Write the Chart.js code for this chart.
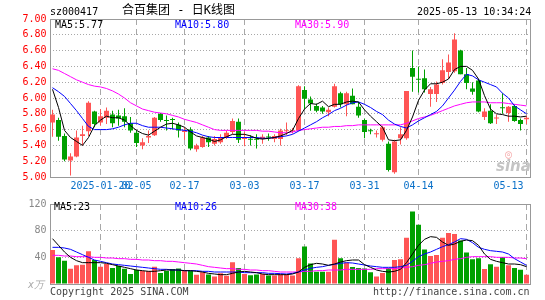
<!DOCTYPE html>
<html>
<head>
<meta charset="utf-8">
<script src="https://cdn.jsdelivr.net/npm/chart.js@4.4.1/dist/chart.umd.min.js"></script>
<style>
  body { margin: 0; background: #fff; width: 545px; height: 300px; overflow: hidden; position: relative;
         font-family: "DejaVu Sans Mono", monospace; font-size: 10px; }
  canvas { position: absolute; left: 0; }
  .t { position: absolute; white-space: pre; line-height: 10px; }
</style>
</head>
<body>
<canvas id="kline" width="545" height="195" style="top:0"></canvas>
<canvas id="volume" width="545" height="105" style="top:195px"></canvas>

<div class="t" style="left:50px;top:7px">sz000417</div>
<div class="t" style="left:122px;top:4px;font-size:12px;line-height:12px;font-family:'DejaVu Sans Mono','Noto Sans CJK SC'">合百集团 - 日K线图</div>
<div class="t" style="left:417px;top:7px">2025-05-13 10:34:24</div>
<div class="t" style="left:55px;top:20px;color:#000">MA5:5.77</div>
<div class="t" style="left:175px;top:20px;color:#00f">MA10:5.80</div>
<div class="t" style="left:295px;top:20px;color:#f0f">MA30:5.90</div>
<div class="t" style="left:505px;top:149px;font-size:12px;color:#f6b0b0">◎</div>
<div class="t" style="left:496px;top:160px;font:italic bold 15px 'DejaVu Sans';line-height:13px;color:#c4c4c4">sina</div>

<div class="t" style="left:54px;top:202px;color:#000">MA5:23</div>
<div class="t" style="left:175px;top:202px;color:#00f">MA10:26</div>
<div class="t" style="left:295px;top:202px;color:#f0f">MA30:38</div>
<div class="t" style="left:28px;top:280px;color:#aaa;font-style:italic">x万</div>
<div class="t" style="left:50px;top:287px;color:#444">Copyright 2025 SINA.COM</div>
<div class="t" style="left:373px;top:287px;color:#444">http://finance.sina.com.cn</div>

<script>
// trading days shown (MM-DD)
const dates = [
  "01-08","01-09","01-10","01-13","01-14","01-15","01-16","01-17","01-20","01-21",
  "01-22","01-23","01-24","01-27","02-05","02-06","02-07","02-10","02-11","02-12",
  "02-13","02-14","02-17","02-18","02-19","02-20","02-21","02-24","02-25","02-26",
  "02-27","02-28","03-03","03-04","03-05","03-06","03-07","03-10","03-11","03-12",
  "03-13","03-14","03-17","03-18","03-19","03-20","03-21","03-24","03-25","03-26",
  "03-27","03-28","03-31","04-01","04-02","04-03","04-07","04-08","04-09","04-10",
  "04-11","04-14","04-15","04-16","04-17","04-18","04-21","04-22","04-23","04-24",
  "04-25","04-28","04-29","04-30","05-06","05-07","05-08","05-09","05-12","05-13"
];
const xTickLabels = ["2025-01-20", "02-05", "02-17", "03-03", "03-17", "03-31", "04-14", "05-13"];

const open = [
  5.69,5.72,5.52,5.21,5.26,5.52,5.58,5.83,5.69,5.75,
  5.79,5.78,5.77,5.68,5.56,5.40,5.50,5.53,5.80,5.72,
  5.73,5.66,5.57,5.60,5.35,5.38,5.50,5.42,5.44,5.50,
  5.57,5.70,5.48,5.48,5.48,5.48,5.51,5.48,5.48,5.58,
  5.58,5.59,6.10,5.98,5.90,5.88,5.82,5.89,6.06,5.92,
  6.03,5.89,5.72,5.59,5.54,5.47,5.42,5.06,5.49,5.49,
  6.38,6.24,6.25,6.05,6.05,6.19,6.33,6.34,6.60,6.30,
  6.12,6.22,5.76,5.84,5.74,5.88,5.81,5.90,5.72,5.73
];
const high = [
  5.85,5.75,5.55,5.30,5.59,5.65,5.96,5.84,5.86,5.88,
  5.84,5.85,5.87,5.76,5.59,5.49,5.59,5.76,5.81,5.78,
  5.75,5.69,5.63,5.63,5.42,5.52,5.52,5.52,5.54,5.59,
  5.74,5.74,5.57,5.53,5.54,5.54,5.55,5.54,5.61,5.69,
  5.62,6.16,6.15,6.02,5.93,5.90,5.88,6.18,6.08,6.08,
  6.12,5.95,5.74,5.61,5.59,5.65,5.45,5.47,5.63,6.09,
  6.60,6.40,6.36,6.14,6.21,6.49,6.55,6.82,6.61,6.38,
  6.20,6.24,5.87,5.92,5.79,6.06,5.90,5.92,5.74,5.78
];
const low = [
  5.51,5.46,5.20,5.02,5.25,5.40,5.52,5.63,5.65,5.67,
  5.63,5.65,5.63,5.56,5.38,5.35,5.43,5.52,5.70,5.59,
  5.60,5.50,5.47,5.34,5.32,5.37,5.38,5.40,5.42,5.48,
  5.54,5.43,5.39,5.40,5.36,5.42,5.46,5.44,5.40,5.53,
  5.55,5.58,5.86,5.84,5.82,5.80,5.77,5.88,5.88,5.77,
  5.92,5.75,5.49,5.54,5.50,5.45,5.07,5.04,5.41,5.47,
  6.08,6.07,6.07,5.89,5.95,6.17,6.24,6.32,6.30,6.11,
  6.04,5.82,5.72,5.67,5.67,5.80,5.70,5.70,5.59,5.67
];
const close = [
  5.79,5.51,5.22,5.26,5.50,5.54,5.94,5.67,5.77,5.84,
  5.68,5.74,5.70,5.59,5.43,5.44,5.52,5.75,5.72,5.71,
  5.72,5.59,5.59,5.36,5.40,5.50,5.44,5.48,5.50,5.56,
  5.71,5.47,5.49,5.47,5.47,5.51,5.50,5.52,5.59,5.59,
  5.59,6.15,5.99,5.93,5.84,5.83,5.85,6.15,5.92,6.06,
  5.92,5.78,5.57,5.58,5.55,5.63,5.09,5.45,5.54,6.09,
  6.27,6.23,6.11,6.11,6.17,6.35,6.45,6.74,6.30,6.19,
  6.08,5.83,5.83,5.68,5.75,5.87,5.89,5.71,5.67,5.75
];
// volume, in 10k lots
const volume = [
  51,40,35,23,28,29,49,36,26,30,
  24,27,23,15,21,19.5,19.5,26,16.6,19.5,
  22.4,23.4,21,20,13.7,17.6,14.1,11.2,16,12.2,
  32.7,23.9,15.1,13.2,14.1,15.1,12.7,12.7,14.1,14.1,
  12.7,38.5,56.1,30.7,18.5,18.5,18.5,66.3,38.5,32.2,
  25.4,23.9,23.4,17.6,11.2,16.6,23.9,36.1,37.1,69.3,
  108.8,88.8,51.7,42,43.4,69.3,76.6,75.1,65.4,47.3,
  37.1,38.5,22.4,29.8,25.9,40.5,28.3,23.9,21.5,13.7
];

const ma5 = [
  6.11,5.88,5.59,5.50,5.45,5.40,5.50,5.65,5.72,5.77,
  5.75,5.75,5.72,5.65,5.59,5.55,5.53,5.58,5.63,5.67,
  5.68,5.66,5.63,5.57,5.52,5.50,5.48,5.45,5.47,5.51,
  5.54,5.54,5.54,5.52,5.49,5.48,5.49,5.50,5.52,5.55,
  5.59,5.74,5.86,5.93,5.92,5.96,5.89,5.92,5.92,5.95,
  5.96,5.95,5.85,5.77,5.70,5.63,5.47,5.46,5.47,5.59,
  5.76,5.97,6.10,6.18,6.18,6.20,6.24,6.36,6.40,6.40,
  6.35,6.24,6.03,5.86,5.80,5.79,5.77,5.77,5.76,5.77
];
const ma10 = [
  6.13,6.08,6.02,5.93,5.84,5.74,5.64,5.60,5.60,5.60,
  5.61,5.63,5.66,5.68,5.68,5.65,5.63,5.63,5.63,5.62,
  5.61,5.60,5.59,5.58,5.56,5.53,5.51,5.50,5.50,5.50,
  5.50,5.50,5.50,5.50,5.50,5.49,5.49,5.50,5.51,5.52,
  5.54,5.58,5.62,5.66,5.70,5.75,5.79,5.84,5.87,5.91,
  5.94,5.95,5.92,5.88,5.83,5.79,5.72,5.67,5.64,5.62,
  5.66,5.71,5.75,5.79,5.83,5.90,6.00,6.10,6.21,6.30,
  6.28,6.23,6.20,6.17,6.14,6.06,6.00,5.90,5.85,5.80
];
const ma30 = [
  6.37,6.35,6.31,6.27,6.23,6.20,6.17,6.15,6.14,6.12,
  6.09,6.05,6.00,5.94,5.90,5.86,5.84,5.82,5.81,5.80,
  5.78,5.76,5.73,5.71,5.69,5.66,5.63,5.60,5.59,5.59,
  5.59,5.59,5.59,5.59,5.59,5.58,5.58,5.57,5.56,5.56,
  5.57,5.59,5.60,5.61,5.62,5.63,5.63,5.64,5.64,5.65,
  5.65,5.66,5.66,5.66,5.66,5.66,5.66,5.66,5.66,5.68,
  5.71,5.74,5.76,5.78,5.81,5.84,5.87,5.90,5.92,5.94,
  5.95,5.95,5.95,5.94,5.94,5.94,5.93,5.92,5.91,5.90
];
const volMa5 = [
  68,58,48,40,35,32,32,32,32,31,
  29,27,25,23,21,20,19,19,20,21,
  21,21,20,20,19,18,16,15,14,14,
  16,18,19,18,17,15,14,14,14,14,
  15,18,25,29,31,30,28,30,33,35,
  36,36,29,25,21,19,18,19,22,32,
  45,58,67,71,70,63,58,60,64,66,
  65,58,45,37,34,32,30,30,29,26
];
const volMa10 = [
  55,55,54,52,48,44,40,36,34,32,
  30,29,28,27,26,25,24,23,22,22,
  21,21,20,20,20,19,19,18,18,18,
  18,18,17,17,17,17,16,16,15.5,15,
  16,18,21,23.5,25,26,28,29.5,31,32,
  31.5,30,28.5,27,26,25,25,25,26,28,
  34,41,45,48,52,56,59,63,68,67,
  62,55,52,50,49,48,45,38,33,28
];
const volMa30 = [
  43,43,42,42,41,41,41,40,40,39,
  39,38,38,37,37,36,36,35,35,34,
  34,33,32,31,30,28,26,25,24,23,
  23,22,22,21,21,20,20,19,18,18,
  18,18,19,19,20,20,21,21,21,22,
  22,22,22,22,23,23,23,23,24,25,
  26,28,29,31,33,34,35,37,38,40,
  41,41,41,41,40,40,40,39,39,38
];

const priceMin = 5.0, priceMax = 7.0, priceStep = 0.2;
const volMax = 120, volStep = 40;

const RED = "#ff5555";
const GREEN = "#00a000";
const GRID = "#a8a8a8";
const FRAME = "#999";

Chart.defaults.font.family = "'DejaVu Sans Mono', monospace";
Chart.defaults.font.size = 10;

const candleColors = open.map((o, i) => (close[i] >= o ? RED : GREEN));

const tickText = (i) => xTickLabels.find((s) => s.endsWith(dates[i])) || "";

// grey frame round the plot area
const frame = {
  id: "frame",
  beforeDatasetsDraw(chart) {
    const { ctx, chartArea: a } = chart;
    const l = Math.round(a.left) + 0.5, r = Math.round(a.right) + 0.5;
    const t = Math.round(a.top) + 0.5, b = Math.round(a.bottom) + 0.5;
    ctx.save();
    ctx.strokeStyle = FRAME;
    ctx.lineWidth = 1;
    ctx.strokeRect(l, t, r - l, b - t);
    ctx.restore();
  },
};

const maLine = (data, color) => ({
  type: "line",
  data: data,
  borderColor: color,
  borderWidth: 1,
  pointRadius: 0,
  tension: 0,
  order: 0,
});

const xScale = (showLabels) => ({
  offset: true,
  grid: {
    offset: false,
    drawTicks: false,
    color: (ctx) => (tickText(ctx.index) ? GRID : "rgba(0,0,0,0)"),
  },
  border: { display: false, dash: [6, 4] },
  ticks: {
    display: showLabels,
    autoSkip: false,
    maxRotation: 0,
    minRotation: 0,
    padding: 3,
    color: "#0a70c8",
    // the last label is pulled inside the frame, as in the original
    callback: (v, i) => (i === dates.length - 1 ? tickText(i) + "      " : tickText(i)),
  },
  afterFit: (s) => {
    s.height = showLabels ? 18 : 16;
    s.paddingLeft = 0;
    s.paddingRight = 0;
  },
});

new Chart(document.getElementById("kline"), {
  type: "bar",
  data: {
    labels: dates,
    datasets: [
      maLine(ma5, "#000"),
      maLine(ma10, "#0000ff"),
      maLine(ma30, "#ff00ff"),
      {
        data: low.map((l, i) => [l, high[i]]),
        backgroundColor: candleColors,
        barThickness: 1,
        grouped: false,
        inflateAmount: 0,
        order: 2,
      },
      {
        data: open.map((o, i) => [o, close[i]]),
        backgroundColor: candleColors,
        barThickness: 5,
        minBarLength: 1,
        grouped: false,
        inflateAmount: 0,
        order: 1,
      },
    ],
  },
  options: {
    responsive: false,
    animation: false,
    layout: { padding: { top: 19, right: 15.5, left: 0, bottom: 0 } },
    plugins: { legend: { display: false }, tooltip: { enabled: false } },
    scales: {
      x: xScale(true),
      y: {
        min: priceMin,
        max: priceMax,
        grid: { color: GRID, drawTicks: false },
        border: { display: false, dash: [1, 2] },
        ticks: {
          stepSize: priceStep,
          padding: 3,
          color: "#f00",
          callback: (v) => v.toFixed(2),
        },
        afterFit: (s) => { s.width = 49.5; },
      },
    },
  },
  plugins: [frame],
});

new Chart(document.getElementById("volume"), {
  type: "bar",
  data: {
    labels: dates,
    datasets: [
      maLine(volMa5, "#000"),
      maLine(volMa10, "#0000ff"),
      maLine(volMa30, "#ff00ff"),
      {
        data: volume,
        backgroundColor: candleColors,
        barThickness: 5,
        grouped: false,
        inflateAmount: 0,
        order: 1,
      },
    ],
  },
  options: {
    responsive: false,
    animation: false,
    layout: { padding: { top: 7, right: 15.5, left: 0, bottom: 0 } },
    plugins: { legend: { display: false }, tooltip: { enabled: false } },
    scales: {
      x: xScale(false),
      y: {
        min: 0,
        max: volMax,
        grid: { color: GRID, drawTicks: false },
        border: { display: false, dash: [1, 2] },
        ticks: {
          stepSize: volStep,
          padding: 3,
          color: "#888",
          callback: (v) => (v === 0 ? "" : v),
        },
        afterFit: (s) => { s.width = 49.5; },
      },
    },
  },
  plugins: [frame],
});
</script>
</body>
</html>
